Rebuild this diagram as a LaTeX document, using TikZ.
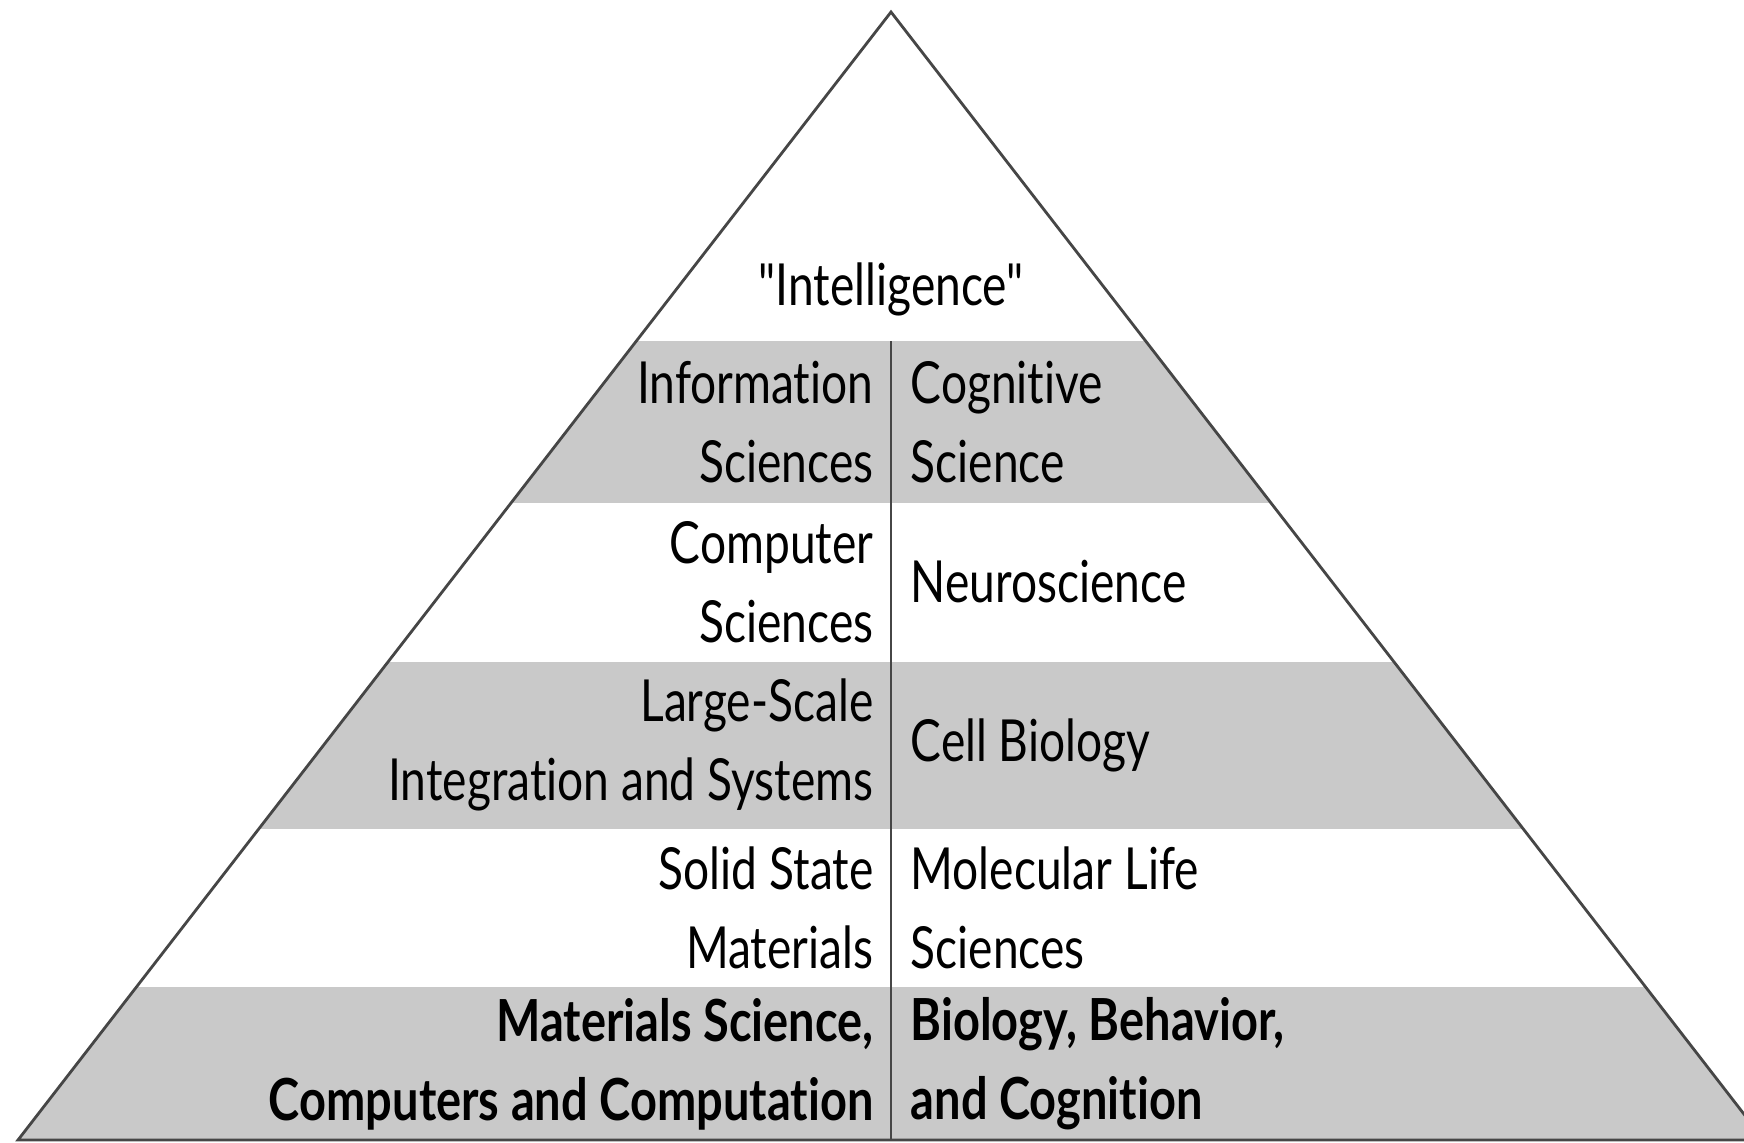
\documentclass[tikz,border=0pt]{standalone}
\usepackage{fontspec}
\setmainfont[FakeStretch=0.795, Ligatures={NoCommon,TeXOff}, BoldFeatures={FakeStretch=0.81}]{Lato}
\usepackage{tikz}
\usetikzlibrary{positioning,calc}

\definecolor{bandgray}{RGB}{201,201,201}
\definecolor{edgegray}{RGB}{70,70,70}

\begin{document}
\begin{tikzpicture}[
    band/.style={fill=bandgray, draw=none},
    edge/.style={draw=edgegray, line width=0.8pt},
    field/.style={inner sep=0pt, font=\fontsize{16.5}{22.5}\selectfont},
    leftfield/.style={field, anchor=east, align=right},
    rightfield/.style={field, anchor=west, align=left}
]
    \useasboundingbox (0,0) rectangle (17.44,11.42);

    % Pyramid corners
    \coordinate (apex) at (8.91,11.30);
    \coordinate (bl) at (0.18,0.02);
    \coordinate (br) at (17.64,0.02);

    % Shaded bands, kept inside the pyramid
    \begin{scope}
        \clip (bl) -- (apex) -- (br) -- cycle;
        \fill[band] (0,6.39) rectangle (17.64,8.01);
        \fill[band] (0,3.13) rectangle (17.64,4.80);
        \fill[band] (0,0.02) rectangle (17.64,1.55);
    \end{scope}

    % Outline and middle divider
    \draw[edge] (bl) -- (apex) -- (br) -- cycle;
    \coordinate (divtop) at (8.91,8.01);
    \coordinate (divbot) at (8.91,0.02);
    \draw[edge] (divtop) -- (divbot);

    % Top
    \node[field] (intel) at (8.91,8.53) {"Intelligence"};

    % Left column
    \node[leftfield] (info) at (8.74,7.20) {Information\\Sciences};
    \node[leftfield] (comp) at (8.74,5.60) {Computer\\Sciences};
    \node[leftfield] (lsi) at (8.74,3.97) {Large-Scale\\Integration and Systems};
    \node[leftfield] (solid) at (8.74,2.34) {Solid State\\Materials};
    \node[leftfield, font=\fontsize{16.5}{22.5}\selectfont\bfseries] (matsci) at (8.74,0.78) {Materials Science,\\Computers and Computation};

    % Right column
    \node[rightfield] (cog) at (9.10,7.20) {Cognitive\\Science};
    \node[rightfield] (neuro) at (9.10,5.60) {Neuroscience};
    \node[rightfield] (cell) at (9.10,3.97) {Cell Biology};
    \node[rightfield] (mol) at (9.10,2.34) {Molecular Life\\Sciences};
    \node[rightfield, font=\fontsize{16.5}{22.5}\selectfont\bfseries] (bio) at (9.10,0.78) {Biology, Behavior,\\and Cognition};
\end{tikzpicture}
\end{document}
